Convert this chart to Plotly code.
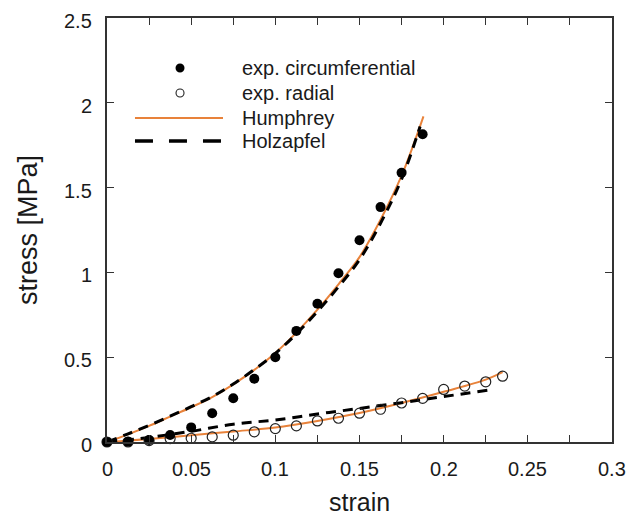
import plotly.graph_objects as go

# ---------------- data ----------------
strain_exp_circ = [0, 0.0125, 0.025, 0.0375, 0.05, 0.0625, 0.075, 0.0875, 0.1,
                   0.1125, 0.125, 0.1375, 0.15, 0.1625, 0.175, 0.1875]
stress_exp_circ = [0, 0.002, 0.012, 0.041, 0.086, 0.17, 0.258, 0.373, 0.5,
                   0.655, 0.815, 0.995, 1.19, 1.385, 1.588, 1.815]

strain_exp_rad = [0, 0.0125, 0.025, 0.0375, 0.05, 0.0625, 0.075, 0.0875, 0.1,
                  0.1125, 0.125, 0.1375, 0.15, 0.1625, 0.175, 0.1875, 0.2,
                  0.2125, 0.225, 0.235]
stress_exp_rad = [0, 0.0, 0.008, 0.02, 0.022, 0.03, 0.04, 0.06, 0.079,
                  0.095, 0.124, 0.14, 0.17, 0.193, 0.23, 0.257, 0.31,
                  0.33, 0.355, 0.388]

strain_hum_circ = [0, 0.0125, 0.025, 0.0375, 0.05, 0.0625, 0.075, 0.0875, 0.1,
                   0.1125, 0.125, 0.1375, 0.15, 0.1625, 0.175, 0.188]
stress_hum_circ = [0, 0.045, 0.095, 0.15, 0.205, 0.265, 0.34, 0.425, 0.525,
                   0.645, 0.78, 0.93, 1.09, 1.31, 1.57, 1.92]

strain_hol_circ = [0, 0.0125, 0.025, 0.0375, 0.05, 0.0625, 0.075, 0.0875, 0.1,
                   0.1125, 0.125, 0.1375, 0.15, 0.1625, 0.175, 0.186]
stress_hol_circ = [0, 0.048, 0.098, 0.152, 0.208, 0.268, 0.342, 0.427, 0.522,
                   0.638, 0.77, 0.915, 1.075, 1.29, 1.55, 1.86]

strain_hum_rad = [0, 0.025, 0.05, 0.075, 0.1, 0.125, 0.15, 0.175, 0.2, 0.225, 0.235]
stress_hum_rad = [0, 0.018, 0.04, 0.062, 0.085, 0.124, 0.171, 0.23, 0.296, 0.368, 0.412]

strain_hol_rad = [0, 0.0125, 0.025, 0.05, 0.075, 0.1, 0.125, 0.15, 0.175, 0.2, 0.227]
stress_hol_rad = [0, 0.013, 0.027, 0.063, 0.105, 0.13, 0.165, 0.198, 0.232, 0.268, 0.306]

x_tickvals = [0, 0.05, 0.1, 0.15, 0.2, 0.25, 0.3]
x_ticktext = ["0", "0.05", "0.1", "0.15", "0.2", "0.25", "0.3"]
x_minorvals = [0.025, 0.075, 0.125, 0.175, 0.225, 0.275]
y_tickvals = [0, 0.5, 1, 1.5, 2, 2.5]
y_ticktext = ["0", "0.5", "1", "1.5", "2", "2.5"]

legend_labels = ["exp. circumferential", "exp. radial", "Humphrey", "Holzapfel"]

# ---------------- figure ----------------
ORANGE = "#E8823A"
FONT = "Liberation Sans, Arial, sans-serif"
TXT = "#1a1a1a"
AX = "#333333"

fig = go.Figure()

fig.add_trace(go.Scatter(x=strain_hum_circ, y=stress_hum_circ, mode="lines",
                         line=dict(color=ORANGE, width=2, shape="spline"),
                         showlegend=False, cliponaxis=False))
fig.add_trace(go.Scatter(x=strain_hum_rad, y=stress_hum_rad, mode="lines",
                         line=dict(color=ORANGE, width=2, shape="spline"),
                         showlegend=False, cliponaxis=False))
fig.add_trace(go.Scatter(x=strain_hol_circ, y=stress_hol_circ, mode="lines",
                         line=dict(color="black", width=3, dash="10px,7px", shape="spline"),
                         showlegend=False, cliponaxis=False))
fig.add_trace(go.Scatter(x=strain_hol_rad, y=stress_hol_rad, mode="lines",
                         line=dict(color="black", width=3, dash="10px,7px", shape="spline"),
                         showlegend=False, cliponaxis=False))
fig.add_trace(go.Scatter(x=strain_exp_rad, y=stress_exp_rad, mode="markers",
                         marker=dict(symbol="circle-open", size=10, color="#222",
                                     line=dict(width=1.2, color="#222")),
                         showlegend=False, cliponaxis=False))
fig.add_trace(go.Scatter(x=strain_exp_circ, y=stress_exp_circ, mode="markers",
                         marker=dict(symbol="circle", size=10, color="black"),
                         showlegend=False, cliponaxis=False))

# ---------------- manual legend ----------------
leg_sym_x = 0.1446
leg_line_x0, leg_line_x1 = 0.0554, 0.2297
leg_text_x = 0.2634
leg_y = [0.882, 0.823, 0.764, 0.710]

shapes = [
    dict(type="circle", xref="paper", yref="paper", xsizemode="pixel", ysizemode="pixel",
         xanchor=leg_sym_x, yanchor=leg_y[0], x0=-4.5, x1=4.5, y0=-4.5, y1=4.5,
         fillcolor="black", line=dict(width=0)),
    dict(type="circle", xref="paper", yref="paper", xsizemode="pixel", ysizemode="pixel",
         xanchor=leg_sym_x, yanchor=leg_y[1], x0=-4, x1=4, y0=-4, y1=4,
         fillcolor="rgba(0,0,0,0)", line=dict(width=1.1, color="#222")),
    dict(type="line", xref="paper", yref="paper", x0=leg_line_x0, x1=leg_line_x1,
         y0=leg_y[2], y1=leg_y[2], line=dict(color=ORANGE, width=2)),
    dict(type="line", xref="paper", yref="paper", x0=leg_line_x0, x1=leg_line_x1,
         y0=leg_y[3], y1=leg_y[3], line=dict(color="black", width=3.5, dash="18px,16px")),
]
annotations = [
    dict(text=t, xref="paper", yref="paper", x=leg_text_x, y=yy, xanchor="left",
         yanchor="middle", showarrow=False, font=dict(family=FONT, size=20, color=TXT))
    for t, yy in zip(legend_labels, leg_y)
]
# x tick labels
annotations += [
    dict(text=t, xref="x", yref="paper", x=v, y=0, xanchor="center", yanchor="top",
         yshift=-14, showarrow=False, font=dict(family=FONT, size=20, color=TXT))
    for v, t in zip(x_tickvals, x_ticktext)
]
# y tick labels
annotations += [
    dict(text=t, xref="paper", yref="y", x=0, y=v, xanchor="right", yanchor="middle",
         xshift=-13, yshift=-3, showarrow=False, font=dict(family=FONT, size=20, color=TXT))
    for v, t in zip(y_tickvals, y_ticktext)
]
# axis titles
annotations.append(
    dict(text="strain", xref="paper", yref="paper", x=0.5, y=0, xanchor="center",
         yanchor="top", yshift=-44, showarrow=False,
         font=dict(family=FONT, size=25, color=TXT))
)
annotations.append(
    dict(text="stress [MPa]", xref="paper", yref="paper", x=0, y=0.5, xanchor="center",
         yanchor="middle", xshift=-79, textangle=-90, showarrow=False,
         font=dict(family=FONT, size=27, color=TXT))
)

fig.update_layout(
    width=627, height=524,
    margin=dict(l=107, r=15, t=18, b=82),
    paper_bgcolor="white", plot_bgcolor="white",
    font=dict(family=FONT, color=TXT),
    showlegend=False,
    shapes=shapes, annotations=annotations,
)

fig.update_xaxes(
    range=[0, 0.3], tickvals=x_tickvals, showticklabels=False,
    ticks="inside", ticklen=7, tickwidth=1.2, tickcolor=AX,
    minor=dict(tickvals=x_minorvals, ticks="inside", ticklen=7, tickwidth=1.2,
               tickcolor=AX, showgrid=False),
    showline=True, linecolor=AX, linewidth=1.5, mirror="ticks",
    showgrid=False, zeroline=False,
)
fig.update_yaxes(
    range=[0, 2.5], tickvals=y_tickvals, showticklabels=False,
    ticks="inside", ticklen=7, tickwidth=1.2, tickcolor=AX,
    showline=True, linecolor=AX, linewidth=1.5, mirror="ticks",
    showgrid=False, zeroline=False,
)

fig.write_html("out.html")
